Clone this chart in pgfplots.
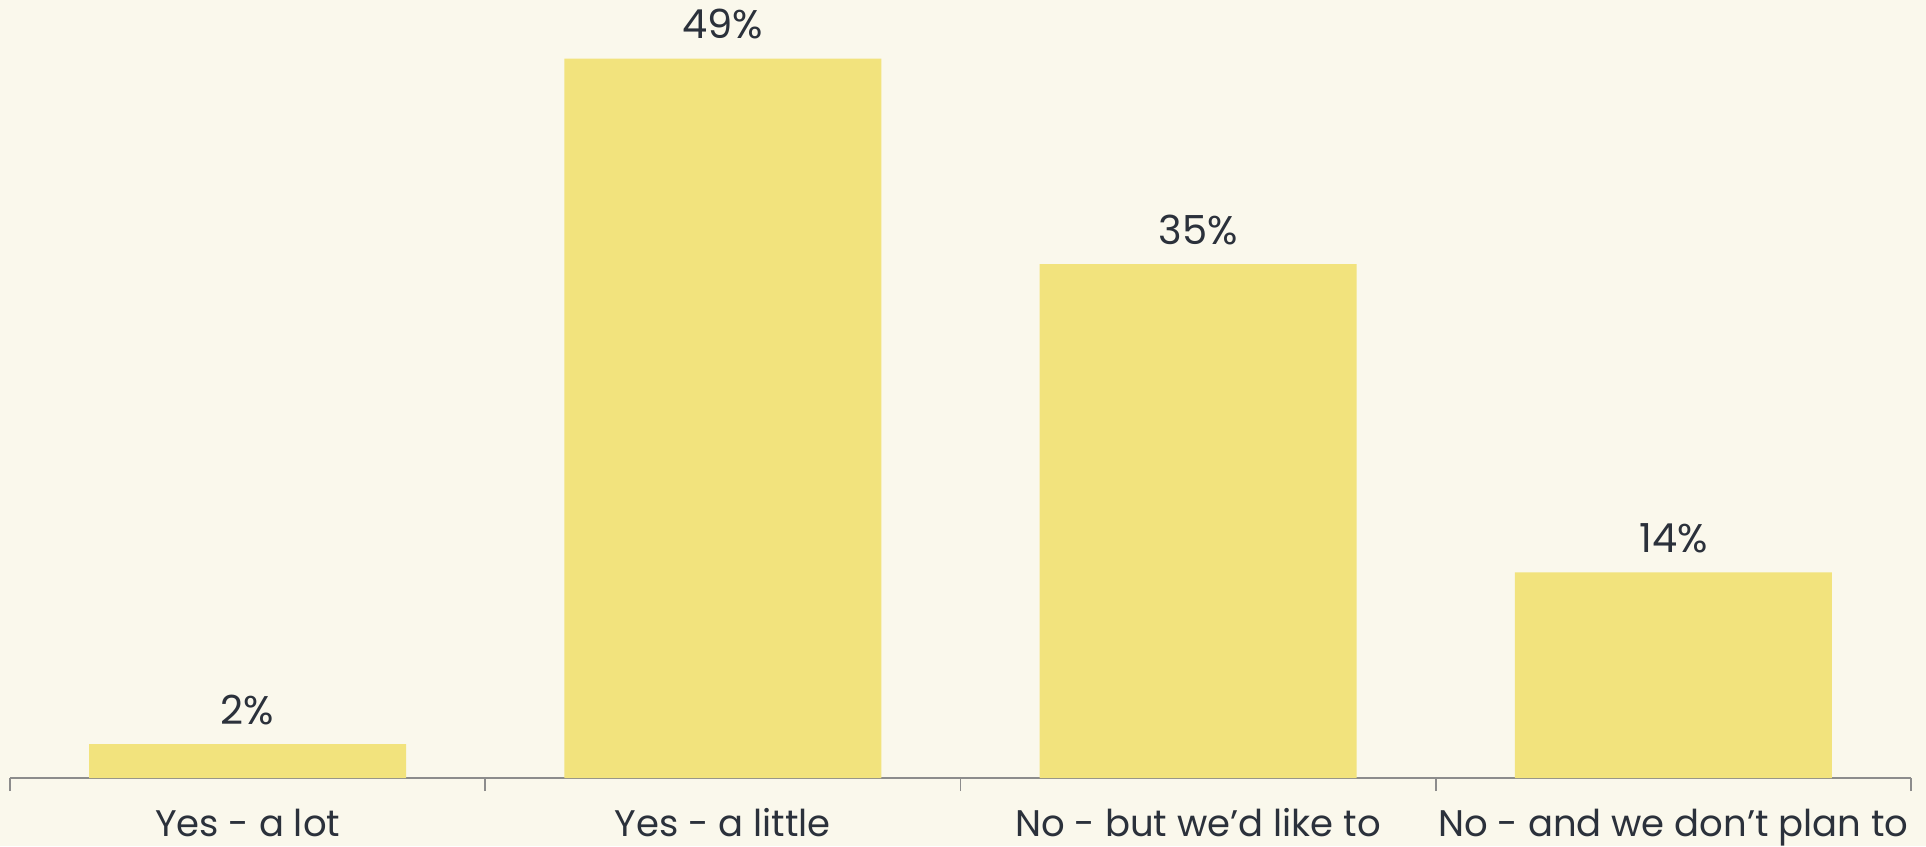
\documentclass[border=0pt]{standalone}
\usepackage{pgfplots}
\pgfplotsset{compat=1.18}
\usepackage{fontspec}
\setmainfont{Poppins}
\definecolor{bgc}{HTML}{FAF8EC}
\definecolor{barc}{HTML}{F2E37D}
\definecolor{txt}{HTML}{2B313B}
\definecolor{axc}{HTML}{8C8C8C}
\begin{document}
\begin{tikzpicture}
\fill[bgc] (-5pt,-34pt) rectangle (958pt,389pt);
\begin{axis}[
  scale only axis,
  width=950.5pt, height=389pt,
  xmin=-0.5, xmax=3.5, ymin=0, ymax=53,
  axis y line=none,
  axis x line*=bottom,
  x axis line style={axc, line width=0.8pt, -},
  xtick={0,1,2,3},
  xticklabels={Yes - a lot, Yes - a little, No - but we’d like to, No - and we don’t plan to},
  minor xtick={-0.5,0.5,1.5,2.5,3.5},
  major tick length=0pt,
  minor tick length=6.5pt,
  tick align=outside,
  minor tick style={axc, line width=0.8pt},
  xticklabel style={anchor=base, yshift=-29pt, font=\fontsize{18.5}{22}\selectfont, text=txt},
  ybar, bar width=158.5pt,
  point meta=explicit,
  /pgf/number format/assume math mode=true,
  nodes near coords={\pgfmathprintnumber{\pgfplotspointmeta}\%},
  nodes near coords style={anchor=base, yshift=10pt, font=\fontsize{20}{24}\selectfont, text=txt},
  clip=false,
]
\addplot[fill=barc, draw=none] coordinates {(0,2.3) [2] (1,49) [49] (2,35) [35] (3,14) [14]};
\end{axis}
\pgfresetboundingbox
\path (-5pt,-34pt) rectangle (958pt,389pt);
\end{tikzpicture}
\end{document}
